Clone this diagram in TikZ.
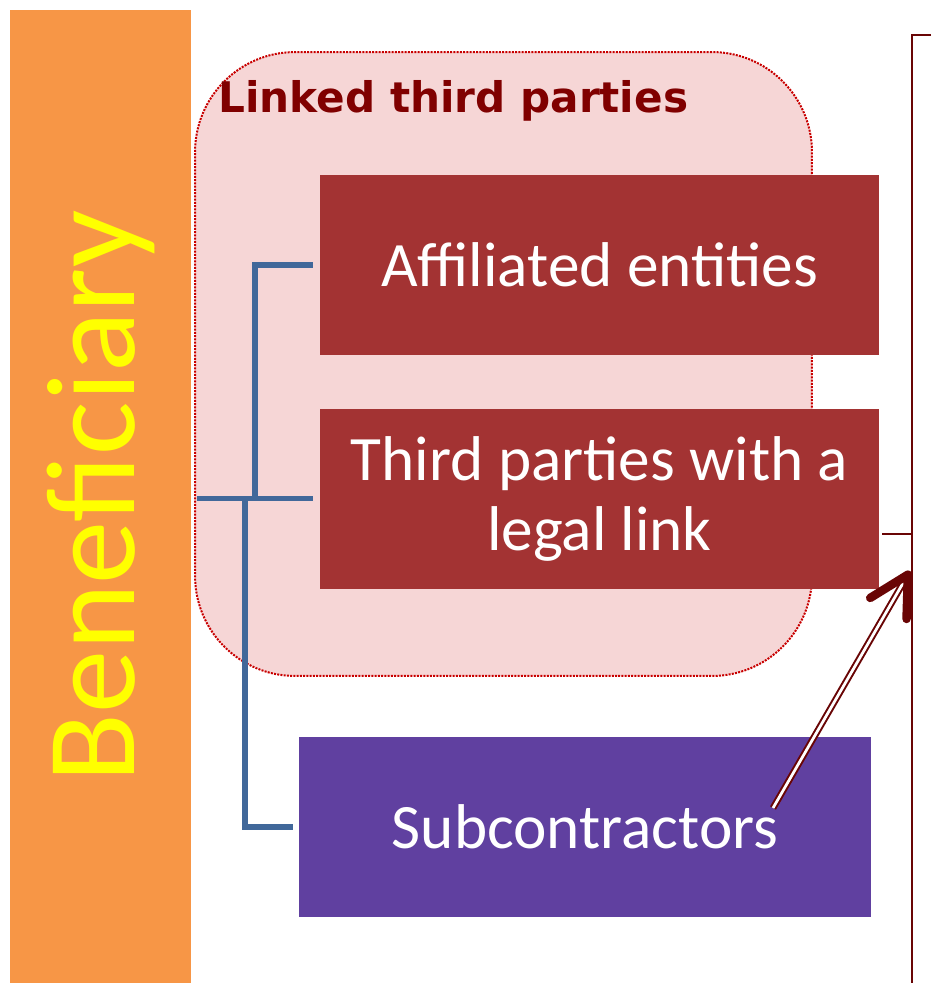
\documentclass[tikz,border=0pt]{standalone}
\usepackage{fontspec}
\setmainfont{Carlito}
\newfontfamily\labelfont{DejaVu Sans}
\usetikzlibrary{positioning,arrows.meta,calc}

\definecolor{benefOrange}{RGB}{247,150,70}
\definecolor{benefYellow}{RGB}{255,255,0}
\definecolor{linkedFill}{RGB}{246,214,214}
\definecolor{linkedBorder}{RGB}{200,0,0}
\definecolor{labelRed}{RGB}{128,0,0}
\definecolor{partyRed}{RGB}{163,51,51}
\definecolor{subPurple}{RGB}{96,64,160}
\definecolor{linkBlue}{RGB}{65,104,154}
\definecolor{arrowRed}{RGB}{105,5,5}

\begin{document}
\begin{tikzpicture}[
    x=0.02cm, y=-0.02cm,
    block/.style={rectangle, inner sep=0pt, minimum width=11.18cm, minimum height=3.6cm,
        fill=partyRed, text=white, align=center, font=\fontsize{36}{40}\selectfont},
    link/.style={draw=linkBlue, line width=0.11cm},
    bracket/.style={draw=arrowRed, line width=0.045cm},
    dblarrow/.style={draw=arrowRed, line width=0.04cm, double=white, double distance=0.055cm,
        -{Straight Barb[length=0.78cm, width=0.84cm, line width=0.17cm, round]}}
]
\fill[white] (0,0) rectangle (931,983);
\useasboundingbox (0,0) rectangle (931,983);

% left bar
\node[rectangle, rotate=90, inner sep=0pt, minimum width=19.46cm, minimum height=3.62cm,
    fill=benefOrange, text=benefYellow, font=\fontsize{72}{72}\selectfont] (benef) at (100.5,496.5) {Beneficiary};

% group of linked third parties
\node[rectangle, rounded corners=2cm, minimum width=12.34cm, minimum height=12.48cm,
    fill=linkedFill, draw=linkedBorder, line width=0.04cm, dash pattern=on 0.04cm off 0.025cm] (linked) at (503.5,364) {};
\node[anchor=west, inner sep=0pt, text=labelRed, font=\labelfont\bfseries\fontsize{24}{28}\selectfont] (linkedlabel) at (218,101) {Linked third parties};

\node[block] (affil) at (599.5,265) {Affiliated entities};
\node[block, below=1.06cm of affil] (third) {Third parties with a\\legal link};
\node[block, minimum width=11.44cm, fill=subPurple] (sub) at (585,827) {Subcontractors};

% tree of links
\coordinate (trunk) at (255,498);
\coordinate (fork) at (245,498);
\draw[link] ($(affil.west)+(-7,0)$) -| (trunk);
\draw[link] ($(third.west)+(-123,0)$) -- ($(third.west)+(-7,0)$);
\draw[link] (fork) |- ($(sub.west)+(-6,0)$);

% bracket on the right
\coordinate (brtop) at (912,35);
\coordinate (brbot) at (912,983);
\coordinate (tick) at (912,534);
\draw[bracket] (931,35) -- (brtop) -- (brbot);
\draw[bracket] ($(third.east |- tick)+(3,0)$) -- (tick);

\coordinate (arrowtip) at (910,571);
\draw[dblarrow] ($(sub.center)+(188,-19)$) -- (arrowtip);
\end{tikzpicture}
\end{document}
